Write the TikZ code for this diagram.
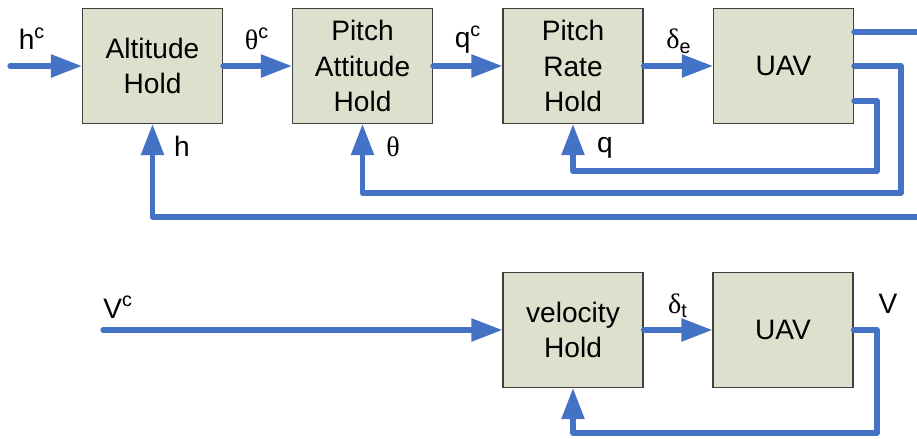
\documentclass[tikz,border=0pt]{standalone}
\usepackage{fontspec}
\setmainfont{Liberation Sans}
\newfontfamily\grk{Liberation Serif}
\usetikzlibrary{arrows.meta,positioning}
\definecolor{boxfill}{RGB}{221,224,204}
\definecolor{sigblue}{RGB}{68,114,196}

\begin{document}
\begin{tikzpicture}[x=0.02cm, y=-0.02cm,
    block/.style={draw=black!75, fill=boxfill, line width=0.6pt, align=center,
        minimum width=2.80cm, minimum height=2.30cm,
        inner sep=2pt, font=\fontsize{16}{20}\selectfont},
    sig/.style={font=\fontsize{16}{20}\selectfont, inner sep=0pt, anchor=base},
    wire/.style={draw=sigblue, line width=3pt, line cap=round, line join=round},
    arrow/.style={wire, -{Triangle[length=0.62cm, width=0.44cm]}}
]
    \useasboundingbox (0, 0) rectangle (917, 439);

    % pitch loop
    \node[block] (alt_hold) at (152.5, 66) {Altitude\\Hold};
    \node[block] (pitch_att) at (362.5, 66) {Pitch\\Attitude\\Hold};
    \node[block] (pitch_rate) at (573, 66) {Pitch\\Rate\\Hold};
    \node[block] (uav_top) at (783.5, 66) {UAV};

    \coordinate (in_h) at (10, 66);
    \coordinate (right_edge) at (930, 0);
    \coordinate (uav_out_h) at ([yshift=0.68cm]uav_top.east);
    \coordinate (uav_out_q) at ([yshift=-0.70cm]uav_top.east);
    \coordinate (fb_q) at (877, 171);
    \coordinate (fb_theta) at (901, 193);
    \coordinate (fb_h) at (152.5, 217);

    \draw[arrow] (in_h) -- (alt_hold.west);
    \draw[arrow] (alt_hold.east) -- (pitch_att.west);
    \draw[arrow] (pitch_att.east) -- (pitch_rate.west);
    \draw[arrow] (pitch_rate.east) -- (uav_top.west);

    \draw[wire] (uav_out_h) -- (uav_out_h -| right_edge);
    \draw[arrow] (uav_top.east)
        -- (uav_top.east -| fb_theta)
        -- (fb_theta)
        -- (fb_theta -| pitch_att)
        -- (pitch_att.south);
    \draw[arrow] (uav_out_q)
        -- (uav_out_q -| fb_q)
        -- (fb_q)
        -- (fb_q -| pitch_rate)
        -- (pitch_rate.south);
    \draw[arrow] (right_edge |- fb_h)
        -- (fb_h)
        -- (alt_hold.south);

    \node[sig] (lbl_hc) at (32, 50) {h\textsuperscript{c}};
    \node[sig] (lbl_thetac) at (257, 50) {{\grk θ}\textsuperscript{c}};
    \node[sig] (lbl_qc) at (468, 48) {q\textsuperscript{c}};
    \node[sig] (lbl_de) at (679, 49) {{\grk δ}\textsubscript{e}};
    \node[sig] (lbl_h) at (182, 157) {h};
    \node[sig] (lbl_theta) at (393, 157) {{\grk θ}};
    \node[sig] (lbl_q) at (605, 153) {q};

    % velocity loop
    \node[block] (vel_hold) at (573, 330) {velocity\\Hold};
    \node[block] (uav_bot) at (783, 330) {UAV};

    \coordinate (in_v) at (103, 330);
    \coordinate (fb_v) at (877, 433);

    \draw[arrow] (in_v) -- (vel_hold.west);
    \draw[arrow] (vel_hold.east) -- (uav_bot.west);
    \draw[arrow] (uav_bot.east)
        -- (uav_bot.east -| fb_v)
        -- (fb_v)
        -- (fb_v -| vel_hold)
        -- (vel_hold.south);

    \node[sig] (lbl_vc) at (118, 318) {V\textsuperscript{c}};
    \node[sig] (lbl_dt) at (678, 313) {{\grk δ}\textsubscript{t}};
    \node[sig] (lbl_v) at (888, 313) {V};
\end{tikzpicture}
\end{document}
